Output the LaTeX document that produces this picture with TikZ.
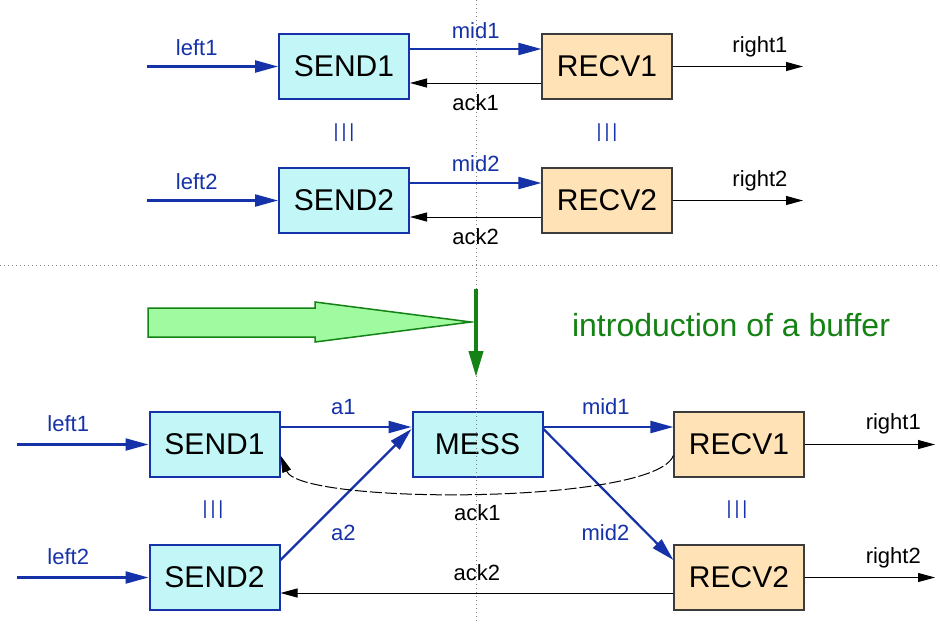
\documentclass[tikz,border=0pt]{standalone}
\usepackage{fontspec}
\setmainfont{Liberation Sans}
\usetikzlibrary{arrows.meta}

\definecolor{lotosblue}{RGB}{22,50,168}
\definecolor{sendfill}{RGB}{195,247,247}
\definecolor{recvfill}{RGB}{255,226,182}
\definecolor{recvdraw}{RGB}{60,60,60}
\definecolor{bufgreen}{RGB}{20,130,20}
\definecolor{buffill}{RGB}{160,250,160}

\tikzset{
  proc/.style={minimum width=130pt, minimum height=65pt, inner sep=0pt,
    font=\fontsize{30}{35}\selectfont},
  sendbox/.style={proc, draw=lotosblue, line width=2pt, fill=sendfill},
  recvbox/.style={proc, draw=recvdraw, line width=1.2pt, fill=recvfill},
  bluechan/.style={draw=lotosblue, line width=2.2pt,
    -{Triangle[length=23pt,width=12pt]}},
  blackchan/.style={draw=black, line width=1pt,
    -{Triangle[length=17pt,width=9pt]}},
  bluelbl/.style={text=lotosblue, font=\fontsize{22}{26}\selectfont, inner sep=0pt},
  blacklbl/.style={text=black, font=\fontsize{22}{26}\selectfont, inner sep=0pt},
  parlbl/.style={text=lotosblue, font=\fontsize{19}{22}\selectfont, inner sep=0pt},
  guide/.style={draw=gray, line width=1pt, dash pattern=on 1pt off 3pt},
}

\newcommand{\interleave}{|\kern3pt|\kern3pt|}

\begin{document}
\begin{tikzpicture}[x=1pt,y=-1pt]
\fill[white] (0,0) rectangle (940,624);
\useasboundingbox (0,0) rectangle (940,624);

% ---------- original specification ----------
\node[sendbox] (ts1) at (344,66.5)  {SEND1};
\node[sendbox] (ts2) at (344,200.5) {SEND2};
\node[recvbox] (tr1) at (607,66.5)  {RECV1};
\node[recvbox] (tr2) at (607,200.5) {RECV2};

\coordinate (tl1) at (147,66.5);
\coordinate (tl2) at (147,200.5);
\coordinate (to1) at (803,66.5);
\coordinate (to2) at (803,200.5);

\draw[bluechan] (tl1) -- (ts1.west) node[bluelbl, pos=0.38, yshift=19pt] {left1};
\draw[bluechan] (tl2) -- (ts2.west) node[bluelbl, pos=0.38, yshift=19pt] {left2};

\draw[bluechan] ([yshift=17.5pt]ts1.east) -- ([yshift=17.5pt]tr1.west)
  node[bluelbl, midway, yshift=18pt] {mid1};
\draw[bluechan] ([yshift=17.5pt]ts2.east) -- ([yshift=17.5pt]tr2.west)
  node[bluelbl, midway, yshift=19pt] {mid2};

\draw[blackchan] ([yshift=-16.5pt]tr1.west) -- ([yshift=-16.5pt]ts1.east)
  node[blacklbl, midway, yshift=-20pt] {ack1};
\draw[blackchan] ([yshift=-16.5pt]tr2.west) -- ([yshift=-16.5pt]ts2.east)
  node[blacklbl, midway, yshift=-20pt] {ack2};

\draw[blackchan] (tr1.east) -- (to1) node[blacklbl, pos=0.67, yshift=20pt] {right1};
\draw[blackchan] (tr2.east) -- (to2) node[blacklbl, pos=0.67, yshift=20pt] {right2};

\node[parlbl] (tpars) at (344,133) {\interleave};
\node[parlbl] (tparr) at (607,133) {\interleave};

% ---------- guide lines ----------
\draw[guide] (0,265) -- (940,265);
\draw[guide] (476,0) -- (476,624);

% ---------- transformation ----------
\draw[bufgreen, fill=buffill, line width=1.5pt, line join=miter]
  (148,308) -- (315,308) -- (315,302) -- (471,322) -- (315,342)
  -- (315,337) -- (148,337) -- cycle;
\draw[bufgreen, line width=4pt, -{Triangle[length=26pt,width=14pt]}]
  (476,289) -- (476,377);
\node[text=bufgreen, font=\fontsize{32}{38}\selectfont] (intro) at (731,325)
  {introduction of a buffer};

% ---------- specification with buffer ----------
\node[sendbox] (bs1) at (214.5,444.5) {SEND1};
\node[sendbox] (bs2) at (214.5,577.5) {SEND2};
\node[sendbox] (bm)  at (477.5,444.5) {MESS};
\node[recvbox] (br1) at (739,444.5)   {RECV1};
\node[recvbox] (br2) at (739,577.5)   {RECV2};

\draw[guide] (476,380) -- (476,624);

\coordinate (bl1) at (17,444.5);
\coordinate (bl2) at (17,577.5);
\coordinate (bo1) at (935,444.5);
\coordinate (bo2) at (935,577.5);

\draw[bluechan] (bl1) -- (bs1.west) node[bluelbl, pos=0.39, yshift=21pt] {left1};
\draw[bluechan] (bl2) -- (bs2.west) node[bluelbl, pos=0.39, yshift=21pt] {left2};

\draw[bluechan] ([yshift=17.5pt]bs1.east) -- ([yshift=17.5pt]bm.west)
  node[bluelbl, pos=0.48, yshift=20pt] {a1};
\draw[bluechan] ([yshift=17.5pt]bs2.east) -- ([yshift=15.5pt]bm.west)
  node[bluelbl, pos=0.48, yshift=-36pt] {a2};

\draw[bluechan] ([yshift=17.5pt]bm.east) -- ([yshift=17.5pt]br1.west)
  node[bluelbl, pos=0.48, yshift=20pt] {mid1};
\draw[bluechan] ([yshift=15.5pt]bm.east) -- ([yshift=17.5pt]br2.west)
  node[bluelbl, pos=0.477, yshift=-41pt] {mid2};

\draw[blackchan, dash pattern=on 12pt off 3pt]
  ([yshift=-11pt]br1.west) .. controls (655,505) and (300,505) ..
  ([yshift=-11pt]bs1.east) node[blacklbl, pos=0.5, yshift=-20pt] {ack1};
\draw[blackchan] ([yshift=-15.5pt]br2.west) -- ([yshift=-15.5pt]bs2.east)
  node[blacklbl, pos=0.5, yshift=20pt] {ack2};

\draw[blackchan] (br1.east) -- (bo1) node[blacklbl, pos=0.68, yshift=21pt] {right1};
\draw[blackchan] (br2.east) -- (bo2) node[blacklbl, pos=0.68, yshift=20pt] {right2};

\node[parlbl] (bpars) at (213,510) {\interleave};
\node[parlbl] (bparr) at (737,510) {\interleave};
\end{tikzpicture}
\end{document}
